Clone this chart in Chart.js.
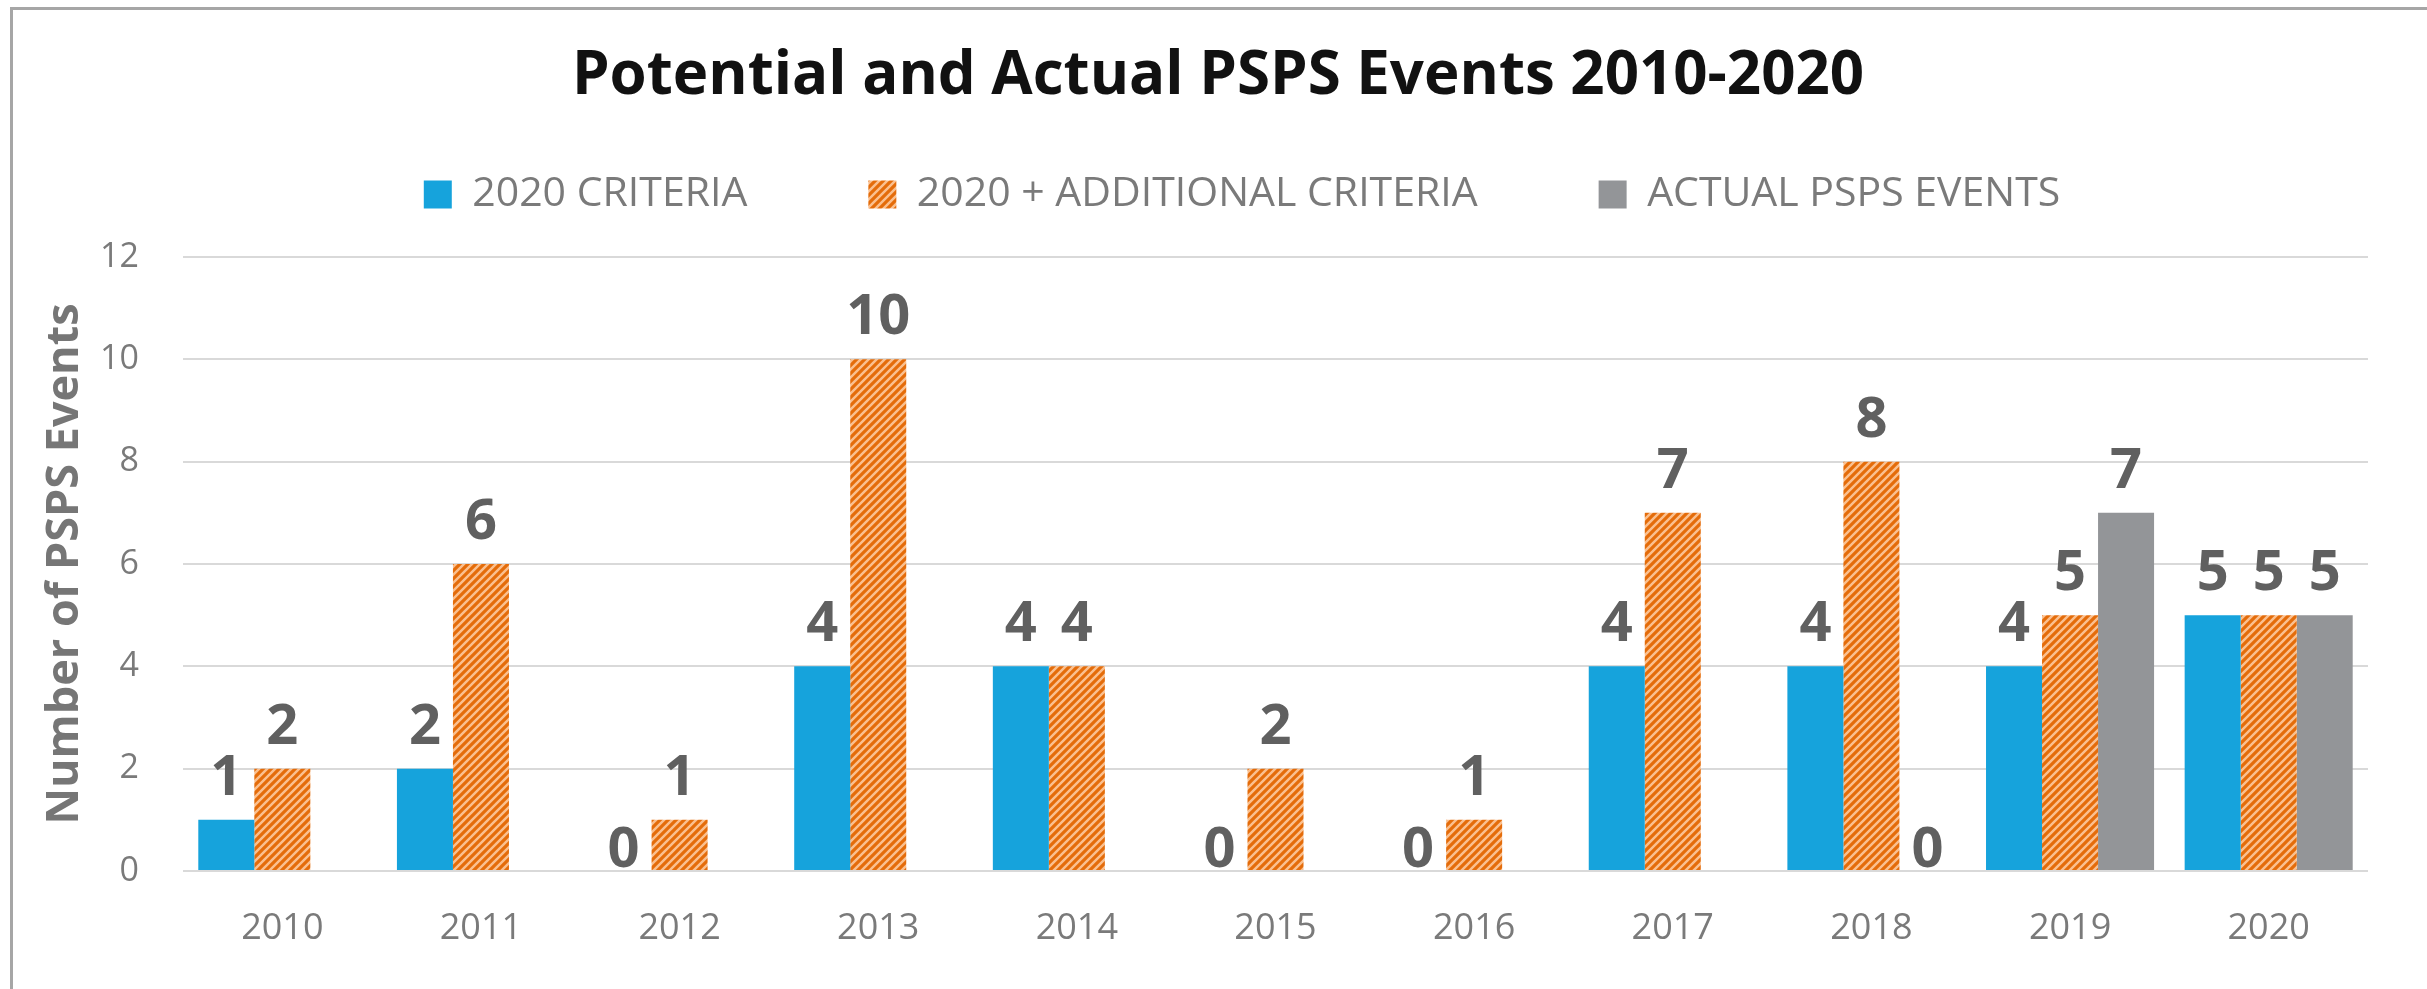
<!DOCTYPE html>
<html>
<head>
<meta charset="utf-8">
<script src="https://cdn.jsdelivr.net/npm/chart.js@4.4.1/dist/chart.umd.min.js"></script>
<style>
  html, body { margin: 0; padding: 0; background: #fff; overflow: hidden; }
  #wrap { position: relative; width: 2427px; height: 989px; }
  #frame { position: absolute; left: 10px; top: 7px; width: 3000px; height: 3000px;
           border-top: 3px solid #a6a6a6; border-left: 3px solid #a6a6a6; pointer-events: none; }
</style>
</head>
<body>
<div id="wrap">
  <canvas id="psps" width="2427" height="989"></canvas>
  <div id="frame"></div>
</div>
<script>
const years = ['2010', '2011', '2012', '2013', '2014', '2015', '2016', '2017', '2018', '2019', '2020'];
const criteria2020 = [1, 2, 0, 4, 4, 0, 0, 4, 4, 4, 5];
const additionalCriteria = [2, 6, 1, 10, 4, 2, 1, 7, 8, 5, 5];
const actualEvents = [null, null, null, null, null, null, null, null, 0, 7, 5];
const yTicks = [0, 2, 4, 6, 8, 10, 12];

const FONT = "'Open Sans', 'Noto Sans', sans-serif";

// orange hatch fill
function makeHatch() {
  const c = document.createElement('canvas');
  c.width = 8; c.height = 8;
  const g = c.getContext('2d');
  g.fillStyle = '#fac08f';
  g.fillRect(0, 0, 8, 8);
  g.strokeStyle = '#e46c0a';
  g.lineWidth = 3.2;
  g.beginPath();
  g.moveTo(-2, 10); g.lineTo(10, -2);
  g.moveTo(-6, 6); g.lineTo(6, -6);
  g.moveTo(2, 14); g.lineTo(14, 2);
  g.stroke();
  return g.createPattern(c, 'repeat');
}

const valueLabels = {
  id: 'valueLabels',
  afterDatasetsDraw(chart) {
    const ctx = chart.ctx;
    ctx.save();
    ctx.font = "bold 56px " + FONT;
    ctx.fillStyle = '#606060';
    ctx.textAlign = 'center';
    ctx.textBaseline = 'alphabetic';
    chart.data.datasets.forEach((ds, i) => {
      const meta = chart.getDatasetMeta(i);
      meta.data.forEach((bar, j) => {
        const v = ds.data[j];
        if (v === null || v === undefined) return;
        const off = v > 0 ? 25 : 4;
        ctx.fillText(String(v), bar.x, bar.y - off);
      });
    });
    ctx.restore();
  }
};

// legend padding is also used vertically, so fix its height and move it up
const headerTweak = {
  id: 'headerTweak',
  beforeLayout(chart) {
    const lg = chart.legend;
    if (lg && !lg._fitPatched) {
      const fit = lg.fit;
      lg.fit = function () { fit.call(this); this.height = 144; };
      lg._fitPatched = true;
    }
  },
  afterLayout(chart) {
    chart.titleBlock.left += 34;
    chart.titleBlock.right += 34;
    chart.legend.top = 53;
    chart.legend.left += 58;
    chart.legend.right += 58;
  }
};

const ctx = document.getElementById('psps').getContext('2d');
const hatch = makeHatch();

new Chart(ctx, {
  type: 'bar',
  data: {
    labels: years,
    datasets: [
      { label: '2020 CRITERIA', data: criteria2020, backgroundColor: '#16a3dc',
        barPercentage: 1.0, categoryPercentage: 0.846 },
      { label: '2020 + ADDITIONAL CRITERIA', data: additionalCriteria, backgroundColor: hatch,
        barPercentage: 1.0, categoryPercentage: 0.846 },
      { label: 'ACTUAL PSPS EVENTS', data: actualEvents, backgroundColor: '#939598',
        barPercentage: 1.0, categoryPercentage: 0.846 }
    ]
  },
  options: {
    responsive: false,
    animation: false,
    layout: { padding: { left: 0, right: 59, top: 0, bottom: 0 } },
    plugins: {
      title: {
        display: true,
        text: 'Potential and Actual PSPS Events 2010-2020',
        color: '#111111',
        font: { family: FONT, size: 60, weight: 'bold' },
        padding: { top: 41, bottom: 0 }
      },
      legend: {
        display: true,
        position: 'top',
        labels: {
          color: '#7a7a7a',
          boxWidth: 28,
          boxHeight: 28,
          padding: 121,
          font: { family: FONT, size: 41 }
        }
      },
      tooltip: { enabled: false }
    },
    scales: {
      x: {
        grid: { display: false },
        border: { display: false },
        ticks: { color: '#7a7a7a', font: { family: FONT, size: 36 }, padding: 28 },
        afterFit(scale) { scale.height = 118; }
      },
      y: {
        min: 0,
        max: 12,
        afterBuildTicks(scale) { scale.ticks = yTicks.map(v => ({ value: v })); },
        grid: { color: '#d9d9d9', lineWidth: 2, drawTicks: false },
        border: { display: false },
        ticks: { color: '#7a7a7a', font: { family: FONT, size: 34 }, padding: 44 },
        title: {
          display: true,
          text: 'Number of PSPS Events',
          color: '#767676',
          font: { family: FONT, size: 45, weight: 'bold' },
          padding: { top: 38, bottom: 0 }
        },
        afterFit(scale) { scale.width = 183; }
      }
    }
  },
  plugins: [valueLabels, headerTweak]
});
</script>
</body>
</html>
